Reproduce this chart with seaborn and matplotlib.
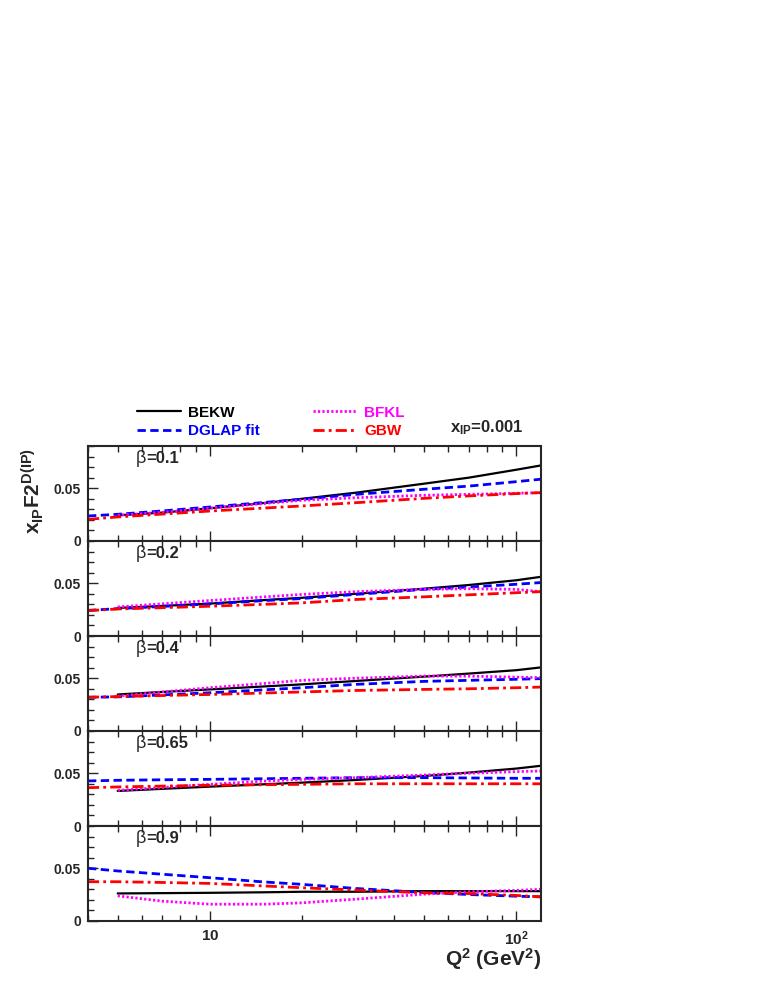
import numpy as np
import pandas as pd
import seaborn as sns
import matplotlib.pyplot as plt
from matplotlib.ticker import LogLocator, MultipleLocator, NullFormatter, FixedLocator, FixedFormatter

# --- data ---
Q2 = [4, 5, 7, 10, 15, 20, 30, 50, 70, 100, 120]
BETAS = ["0.1", "0.2", "0.4", "0.65", "0.9"]
nan = np.nan

bekw = [
    [nan, 0.0243, 0.0269, 0.0310, 0.0360, 0.0400, 0.0458, 0.0543, 0.0600, 0.0675, 0.0715],
    [nan, 0.0266, 0.0285, 0.0307, 0.0340, 0.0362, 0.0400, 0.0448, 0.0483, 0.0528, 0.0560],
    [nan, 0.0346, 0.0370, 0.0394, 0.0422, 0.0442, 0.0474, 0.0515, 0.0544, 0.0576, 0.0602],
    [nan, 0.0332, 0.0352, 0.0373, 0.0395, 0.0411, 0.0436, 0.0474, 0.0506, 0.0544, 0.0570],
    [nan, 0.0261, 0.0264, 0.0267, 0.0272, 0.0277, 0.0277, 0.0283, 0.0283, 0.0283, 0.0283],
]
dglap = [
    [0.0237, 0.0253, 0.0285, 0.0322, 0.0365, 0.0395, 0.0442, 0.0490, 0.0520, 0.0562, 0.0585],
    [0.0243, 0.0259, 0.0280, 0.0304, 0.0335, 0.0355, 0.0394, 0.0442, 0.0464, 0.0490, 0.0506],
    [0.0320, 0.0323, 0.0342, 0.0362, 0.0390, 0.0410, 0.0442, 0.0470, 0.0480, 0.0490, 0.0496],
    [0.0427, 0.0433, 0.0438, 0.0442, 0.0448, 0.0452, 0.0458, 0.0458, 0.0455, 0.0452, 0.0452],
    [0.0500, 0.0474, 0.0443, 0.0410, 0.0370, 0.0347, 0.0308, 0.0270, 0.0251, 0.0235, 0.0229],
]
bfkl = [
    [nan, 0.0245, 0.0272, 0.0312, 0.0355, 0.0386, 0.0410, 0.0433, 0.0442, 0.0452, 0.0458],
    [nan, 0.0275, 0.0305, 0.0336, 0.0370, 0.0394, 0.0420, 0.0442, 0.0448, 0.0442, 0.0420],
    [nan, 0.0330, 0.0370, 0.0410, 0.0450, 0.0480, 0.0500, 0.0520, 0.0520, 0.0510, 0.0506],
    [nan, 0.0338, 0.0365, 0.0395, 0.0425, 0.0442, 0.0458, 0.0483, 0.0500, 0.0515, 0.0521],
    [nan, 0.0238, 0.0188, 0.0159, 0.0159, 0.0172, 0.0207, 0.0254, 0.0277, 0.0290, 0.0300],
]
gbw = [
    [0.0205, 0.0228, 0.0255, 0.0284, 0.0312, 0.0332, 0.0363, 0.0404, 0.0427, 0.0449, 0.0458],
    [0.0240, 0.0256, 0.0268, 0.0282, 0.0300, 0.0314, 0.0346, 0.0371, 0.0390, 0.0410, 0.0420],
    [0.0320, 0.0326, 0.0336, 0.0346, 0.0360, 0.0370, 0.0384, 0.0394, 0.0400, 0.0410, 0.0416],
    [0.0363, 0.0370, 0.0378, 0.0386, 0.0391, 0.0395, 0.0400, 0.0400, 0.0400, 0.0400, 0.0400],
    [0.0372, 0.0372, 0.0365, 0.0356, 0.0332, 0.0315, 0.0293, 0.0267, 0.0260, 0.0242, 0.0229],
]

MODELS = ["BEKW", "DGLAP fit", "BFKL", "GBW"]
PALETTE = {"BEKW": "black", "DGLAP fit": "#0000ff", "BFKL": "#ff00ff", "GBW": "#ff0000"}
DASHES = {"BEKW": "", "DGLAP fit": (3, 1.6), "BFKL": (0.8, 0.8), "GBW": (4, 1.5, 1, 1.5)}
WIDTHS = {"BEKW": 1.6, "DGLAP fit": 2.0, "BFKL": 2.0, "GBW": 2.0}

sns.set_style("ticks")
plt.rcParams["font.family"] = ["Liberation Sans", "DejaVu Sans"]
plt.rcParams["mathtext.fontset"] = "custom"
plt.rcParams["mathtext.rm"] = "Liberation Sans"
plt.rcParams["mathtext.bf"] = "Liberation Sans:bold"
plt.rcParams["mathtext.it"] = "Liberation Sans:italic"

W, H = 758, 981
fig = plt.figure(figsize=(W / 100, H / 100), dpi=100)

left_px, right_px = 88, 541
top_px, panel_h = 446, 95

axes = []
for i, beta in enumerate(BETAS):
    y0 = top_px + panel_h * (i + 1)
    ax = fig.add_axes([left_px / W, 1 - y0 / H, (right_px - left_px) / W, panel_h / H])
    axes.append(ax)

    rows = []
    for name, arr in zip(MODELS, [bekw, dglap, bfkl, gbw]):
        for q, v in zip(Q2, arr[i]):
            rows.append({"Q2": q, "value": v, "model": name})
    df = pd.DataFrame(rows).dropna()

    for name in MODELS:
        sub = df[df["model"] == name]
        sns.lineplot(data=sub, x="Q2", y="value", color=PALETTE[name],
                     linewidth=WIDTHS[name], ax=ax, legend=False)
        line = ax.get_lines()[-1]
        if DASHES[name]:
            line.set_dashes(DASHES[name])

    ax.set_xscale("log")
    ax.set_xlim(4, 120.5)
    ax.set_ylim(0, 0.09)
    ax.set_xlabel("")
    ax.set_ylabel("")

    ax.xaxis.set_major_locator(FixedLocator([10, 100]))
    ax.xaxis.set_minor_locator(LogLocator(base=10, subs=np.arange(2, 10)))
    ax.xaxis.set_minor_formatter(NullFormatter())
    ax.yaxis.set_major_locator(FixedLocator([0, 0.05]))
    ax.yaxis.set_major_formatter(FixedFormatter(["0", "0.05"]))
    ax.yaxis.set_minor_locator(MultipleLocator(0.01))

    ax.tick_params(axis="x", which="both", direction="in", top=True, bottom=True)
    ax.tick_params(axis="y", which="both", direction="in", left=True, right=False)
    ax.tick_params(which="major", length=7, width=1)
    ax.tick_params(which="minor", length=4, width=1)
    ax.tick_params(axis="y", labelsize=10, pad=5)
    for lab in ax.get_yticklabels():
        lab.set_fontweight("bold")
    for s in ax.spines.values():
        s.set_linewidth(1.5)
        s.set_visible(True)

    if i < len(BETAS) - 1:
        ax.set_xticklabels([])
    else:
        ax.xaxis.set_major_formatter(FixedFormatter([r"$\mathbf{10}$", r"$\mathbf{10^2}$"]))
        ax.tick_params(axis="x", labelsize=11, pad=6)

    t_beta = ax.text(0.105, 0.87, "\u03b2", transform=ax.transAxes, fontsize=13,
                     va="center", ha="left")
    ax.annotate("=" + beta, xy=(1, 0.5), xycoords=t_beta, fontsize=12,
                fontweight="bold", va="center", ha="left")

# legend above the panels
handles = axes[0].get_lines()[:4]
leg = fig.legend(handles, MODELS, ncol=2, frameon=False, loc="upper left",
                 bbox_to_anchor=(123 / W, 1 - 392 / H),
                 handlelength=2.9, handletextpad=0.45, columnspacing=3.5,
                 labelspacing=0.3, prop={"weight": "bold", "size": 11})
for txt, name in zip(leg.get_texts(), MODELS):
    txt.set_color(PALETTE[name])

fig.text(450 / W, 1 - 428 / H, r"$\mathbf{x_{IP}}$=0.001", fontsize=12,
         fontweight="bold", va="center", ha="left")

fig.text(33 / W, 1 - 491 / H, r"$\mathbf{x_{IP}F2^{D(IP)}}$", fontsize=15,
         rotation=90, va="center", ha="center")

fig.text(541 / W, 1 - 959 / H, r"$\mathbf{Q^2}$ (GeV$^\mathbf{2}$)", fontsize=15,
         fontweight="bold", va="center", ha="right")

fig.savefig("out.png", dpi=100)
